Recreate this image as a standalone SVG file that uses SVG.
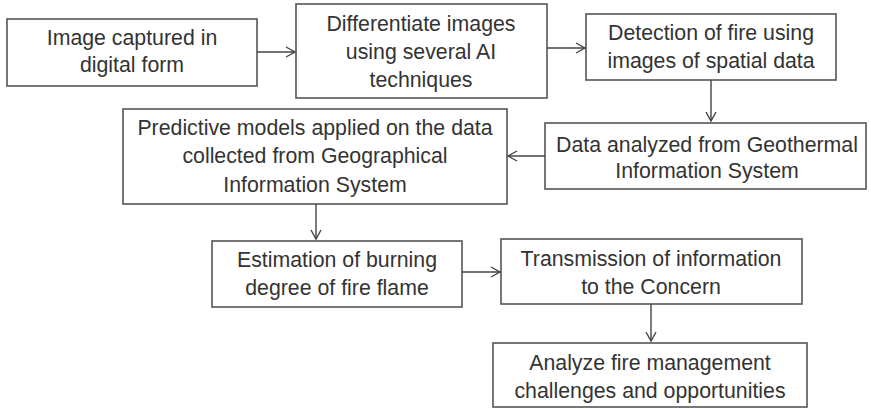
<svg xmlns="http://www.w3.org/2000/svg" width="871" height="409" viewBox="0 0 871 409">
<style>
.box{fill:#fff;stroke:#555;stroke-width:1.6}
.t{font-family:"Liberation Sans",Arial,sans-serif;font-size:21.3px;fill:#333;text-anchor:middle}
.c{stroke:#444;stroke-width:1.4;fill:none}
</style>
<defs>
<marker id="ah" markerWidth="12" markerHeight="12" refX="10" refY="6" orient="auto" markerUnits="userSpaceOnUse">
<path d="M1,1 L10,6 L1,11" fill="none" stroke="#444" stroke-width="1.4"/>
</marker>
</defs>
<rect width="871" height="409" fill="#fff"/>
<g id="n1"><rect class="box" x="7" y="19" width="250" height="67"/>
<text class="t" x="132" y="45">Image captured in</text><text class="t" x="132" y="72">digital form</text></g>
<g id="n2"><rect class="box" x="296" y="4" width="251" height="94"/>
<text class="t" x="421" y="31">Differentiate images</text><text class="t" x="421" y="59">using several AI</text><text class="t" x="421" y="87">techniques</text></g>
<g id="n3"><rect class="box" x="586" y="14" width="250" height="66"/>
<text class="t" x="711" y="40">Detection of fire using</text><text class="t" x="711" y="68">images of spatial data</text></g>
<g id="n4"><rect class="box" x="545" y="123" width="321" height="66"/>
<text class="t" x="707" y="152">Data analyzed from Geothermal</text><text class="t" x="707" y="178">Information System</text></g>
<g id="n5"><rect class="box" x="123" y="109" width="384" height="95"/>
<text class="t" x="315" y="135">Predictive models applied on the data</text><text class="t" x="315" y="163">collected from Geographical</text><text class="t" x="315" y="192">Information System</text></g>
<g id="n6"><rect class="box" x="212" y="241" width="250" height="66"/>
<text class="t" x="337" y="267">Estimation of burning</text><text class="t" x="337" y="295">degree of fire flame</text></g>
<g id="n7"><rect class="box" x="501" y="239" width="301" height="65"/>
<text class="t" x="651" y="266">Transmission of information</text><text class="t" x="651" y="294">to the Concern</text></g>
<g id="n8"><rect class="box" x="493" y="343" width="314" height="64"/>
<text class="t" x="650" y="370">Analyze fire management</text><text class="t" x="650" y="398">challenges and opportunities</text></g>
<g id="connectors">
<line class="c" x1="257" y1="52" x2="295" y2="52" marker-end="url(#ah)"/>
<line class="c" x1="547" y1="48" x2="585" y2="48" marker-end="url(#ah)"/>
<line class="c" x1="711" y1="80" x2="711" y2="121" marker-end="url(#ah)"/>
<line class="c" x1="545" y1="156" x2="508" y2="156" marker-end="url(#ah)"/>
<line class="c" x1="316" y1="204" x2="316" y2="239" marker-end="url(#ah)"/>
<line class="c" x1="462" y1="272" x2="500" y2="272" marker-end="url(#ah)"/>
<line class="c" x1="651" y1="304" x2="651" y2="341" marker-end="url(#ah)"/>
</g>
</svg>
